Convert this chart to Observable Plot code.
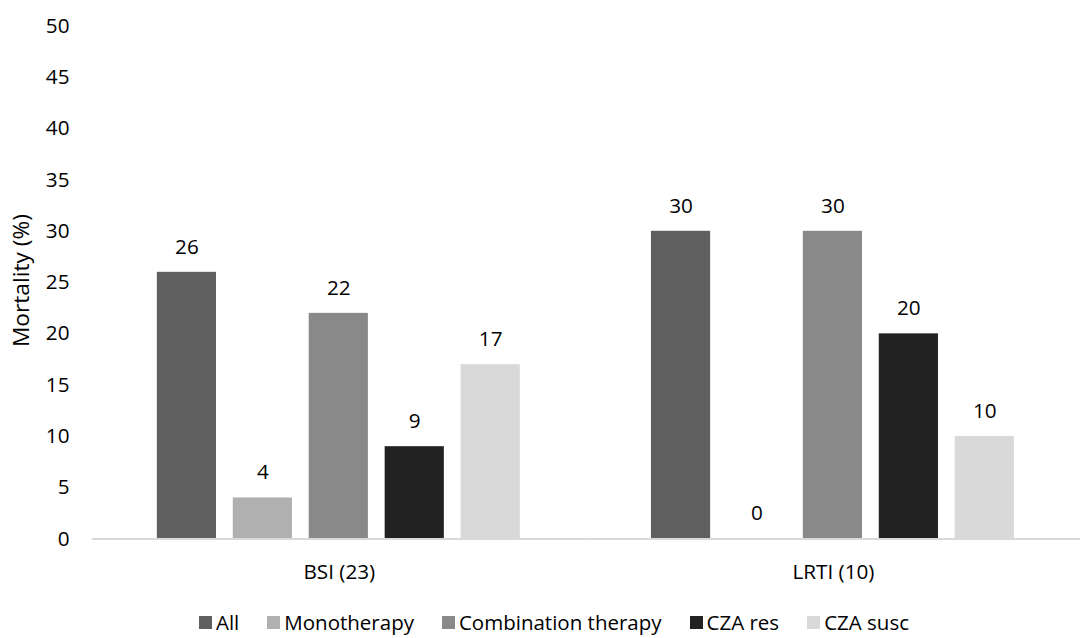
<!DOCTYPE html>
<html>
<head>
<meta charset="utf-8">
<script src="https://cdn.jsdelivr.net/npm/d3@7"></script>
<script src="https://cdn.jsdelivr.net/npm/@observablehq/plot@0.6"></script>
<style>
  html, body { margin: 0; padding: 0; background: #fff; overflow: hidden; width: 1080px; height: 638px; }
  #chart { position: absolute; left: 0; top: 0; }
  #legend { position: absolute; left: 0; top: 609px; width: 1080px; box-sizing: border-box; padding-left: 28px;
            display: flex; justify-content: center; gap: 28px;
            font-family: "Open Sans", sans-serif; font-size: 20.5px; color: #000; line-height: 26px; }
  .item { display: flex; align-items: center; gap: 4px; white-space: nowrap; }
  .sw { width: 13px; height: 13px; display: inline-block; }
</style>
</head>
<body>
<div id="chart"></div>
<div id="legend"></div>
<script>
const groups = ["BSI (23)", "LRTI (10)"];
const series = ["All", "Monotherapy", "Combination therapy", "CZA res", "CZA susc"];
const bsiValues = [26, 4, 22, 9, 17];
const lrtiValues = [30, 0, 30, 20, 10];
const colors = ["#5f5f5f", "#b0b0b0", "#898989", "#222222", "#d9d9d9"];
const yTicks = [0, 5, 10, 15, 20, 25, 30, 35, 40, 45, 50];

const valuesByGroup = [bsiValues, lrtiValues];
const data = groups.flatMap((g, gi) => series.map((s, si) => ({group: g, series: s, value: valuesByGroup[gi][si]})));

const chart = Plot.plot({
  width: 1095,
  height: 600,
  marginLeft: 93,
  marginRight: 0,
  marginTop: 26,
  marginBottom: 54,
  style: {fontFamily: "Open Sans, sans-serif", fontSize: "21px", color: "#000", background: "white"},
  fx: {domain: groups, padding: 0},
  x: {domain: series, paddingInner: 0.22, paddingOuter: 0.863, axis: null},
  y: {domain: [0, 50]},
  color: {domain: series, range: colors},
  marks: [
    Plot.axisY({ticks: yTicks, tickSize: 0, tickPadding: 23, label: "Mortality (%)", labelAnchor: "center", labelArrow: "none", labelOffset: 80, fontSize: 21}),
    Plot.axisFx({anchor: "bottom", tickSize: 0, tickPadding: 26, label: null, fontSize: 21}),
    Plot.barY(data, {fx: "group", x: "series", y: "value", fill: "series"}),
    Plot.ruleY([0], {stroke: "#d9d9d9", strokeWidth: 2}),
    Plot.text(data, {fx: "group", x: "series", y: "value", text: d => String(d.value), dy: -19, lineAnchor: "bottom", fontSize: 21, fill: "#000"})
  ]
});
// the y-axis title is set slightly larger than the tick labels, as in the reference
const yl = chart.querySelector('[aria-label="y-axis label"]');
if (yl) {
  const t = yl.getAttribute("transform") || "";
  yl.setAttribute("transform", ("translate(0,-2) " + t).trim());
  yl.setAttribute("font-size", "23");
}
document.getElementById("chart").appendChild(chart);

const legend = document.getElementById("legend");
series.forEach((s, i) => {
  const item = document.createElement("div");
  item.className = "item";
  const sw = document.createElement("span");
  sw.className = "sw";
  sw.style.background = colors[i];
  const label = document.createElement("span");
  label.textContent = s;
  item.appendChild(sw);
  item.appendChild(label);
  legend.appendChild(item);
});
</script>
</body>
</html>
